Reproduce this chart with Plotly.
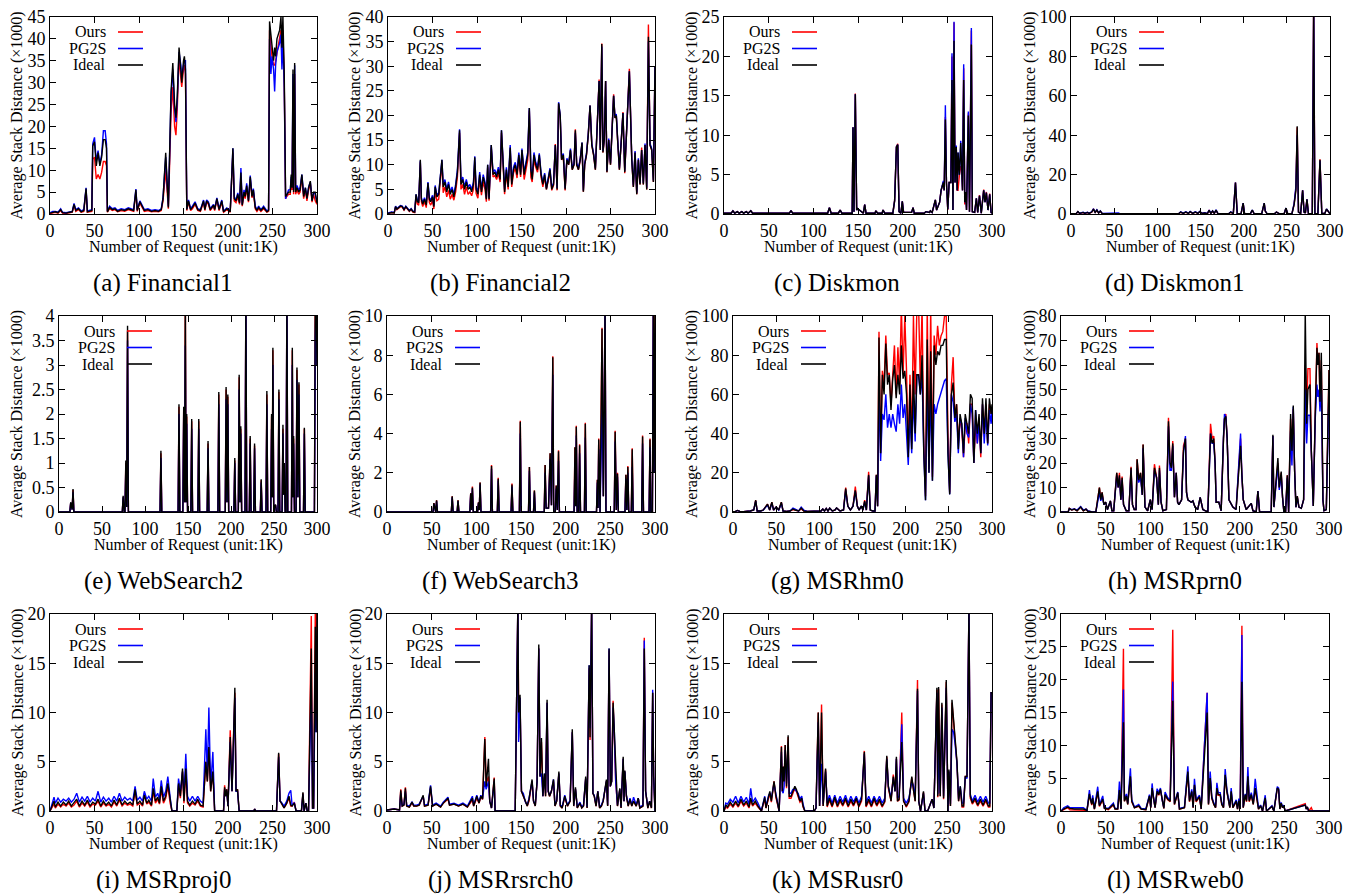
import plotly.graph_objects as go

W, H = 1358, 895
FONT = "Liberation Serif"
RED, BLUE, BLACK = "#ff0000", "#0000ff", "#000000"

# ---------------- (a) Financial1 ----------------
A_X = [0, 3, 6, 9, 12, 14, 18, 22, 25, 27,
       29, 32, 35, 38, 40.5, 42, 45, 47, 48, 50,
       52, 54, 56, 58, 60, 62, 63.5, 64.5, 67, 70,
       73, 76, 80, 84, 88, 92, 94, 96.5, 98, 101,
       103, 106, 110, 114, 118, 122, 125, 127, 130, 133,
       136, 138, 140, 141.5, 143, 145, 147, 148, 150, 151,
       152.2, 153.7, 155.6, 158, 160, 163, 166, 169, 172.5, 174,
       176, 178, 180, 183.7, 185, 187.5, 190, 193, 195, 198.7,
       202.5, 205.5, 207, 209, 211, 213, 214.5, 216, 218, 219.4,
       221, 223, 225, 226.9, 228.5, 230.6, 232.5, 234.4, 237, 240,
       243.7, 245.6, 246.7, 248.2, 249.4, 251.2, 252.4, 253.5, 255, 256.9,
       258, 259.5, 260.6, 261.7, 263.2, 264.7, 266, 268, 270, 271,
       272, 273, 273.7, 274.9, 276, 277.5, 279.4, 281, 283, 285,
       287, 288.7, 290.6, 292.5, 294.4, 296.2, 298, 300]
A_IDEAL = [0.2, 0.4, 0.5, 0.3, 1.0, 0.3, 0.2, 0.4, 0.5, 2.2,
           0.8, 1.2, 0.5, 0.8, 5.8, 0.5, 0.6, 0.8, 15.5, 16.5,
           11, 14, 11, 13, 17, 17, 15, 0.5, 1.5, 1.0,
           1.2, 0.6, 1.0, 0.8, 1.2, 1.0, 0.8, 5.5, 0.8, 2.8,
           2.0, 0.8, 1.0, 0.6, 0.8, 0.6, 1.0, 3.5, 14, 1.5,
           28, 34.5, 25, 22, 27, 38, 33, 30, 35, 36,
           33, 1.0, 3.0, 1.0, 1.5, 2.5, 1.0, 0.8, 3.0, 1.0,
           3.0, 2.5, 1.0, 2.0, 1.0, 3.5, 1.0, 3.0, 0.5, 1.2,
           0.5, 15, 3.5, 3.0, 4.5, 2.5, 9.5, 2.0, 5.0, 4.0,
           6.5, 3.0, 8.5, 4.0, 5.5, 1.5, 0.8, 1.5, 0.8, 1.5,
           0.5, 0.8, 44, 41, 37, 35, 38, 36, 40, 41,
           42, 45, 38, 45, 32, 4.0, 4.5, 5.0, 5.0, 9.0,
           6.0, 33, 5.0, 34.5, 5.0, 6.0, 5.0, 5.5, 9.0, 4.0,
           6.0, 3.5, 6.0, 7.5, 3.0, 5.0, 5.0, 2.5]
A_OURS = [0.1, 0.3, 0.4, 0.2, 0.8, 0.2, 0.1, 0.3, 0.4, 2.0,
          0.6, 1.0, 0.4, 0.6, 5.5, 0.4, 0.5, 0.6, 12.5, 13,
          8, 9, 8, 9.5, 12, 12, 11, 0.4, 1.2, 0.8,
          1.0, 0.5, 0.8, 0.6, 1.0, 0.8, 0.6, 5.0, 0.6, 2.5,
          1.8, 0.6, 0.8, 0.5, 0.6, 0.5, 0.8, 3.0, 10, 1.2,
          23, 29, 20, 18, 24, 36, 31, 29, 33, 34,
          32, 0.8, 2.7, 0.8, 1.2, 2.2, 0.8, 0.6, 2.7, 0.8,
          2.7, 2.2, 0.8, 1.8, 0.8, 3.2, 0.8, 2.7, 0.4, 1.0,
          0.4, 14, 3.0, 2.6, 4.0, 2.2, 8.5, 1.8, 4.5, 3.5,
          6.0, 2.7, 8.0, 3.7, 5.0, 1.2, 0.6, 1.2, 0.6, 1.2,
          0.4, 0.6, 42, 38, 36, 34, 34, 35, 37, 39,
          40, 42, 36, 42, 30, 3.5, 4.0, 4.5, 4.5, 8.0,
          5.5, 28, 4.5, 32, 4.5, 5.5, 4.5, 5.0, 8.5, 3.5,
          5.5, 3.0, 5.5, 7.0, 2.7, 4.5, 3.0, 2.2]
A_PG2S = [0.3, 0.6, 0.6, 0.4, 1.2, 0.4, 0.3, 0.5, 0.6, 2.4,
          1.0, 1.4, 0.7, 1.0, 6.0, 0.7, 0.8, 1.0, 16, 17.5,
          12, 14.5, 11.5, 13.5, 19, 19, 16, 0.7, 1.8, 1.2,
          1.4, 0.8, 1.2, 1.0, 1.4, 1.2, 1.0, 5.7, 1.0, 3.0,
          2.2, 1.0, 1.2, 0.8, 1.0, 0.8, 1.2, 3.8, 13, 1.8,
          27, 33, 24, 21, 26, 37, 34, 31, 34, 35,
          35, 1.2, 3.2, 1.2, 1.8, 2.8, 1.2, 1.0, 3.2, 1.2,
          3.2, 2.8, 1.2, 2.2, 1.2, 3.7, 1.2, 3.2, 0.7, 1.4,
          0.7, 15, 4.0, 3.2, 4.8, 2.8, 10.5, 2.2, 5.5, 4.3,
          7.0, 3.2, 8.8, 4.3, 5.8, 1.8, 1.0, 1.8, 1.0, 1.8,
          0.7, 1.0, 40, 32, 36, 33, 28, 34, 37, 38,
          39, 41, 33, 40, 29, 3.5, 4.3, 5.5, 5.5, 8.5,
          6.5, 32, 5.5, 34, 5.5, 6.5, 5.5, 6.0, 9.0, 4.5,
          6.0, 3.7, 6.2, 7.3, 3.2, 5.0, 4.5, 2.8]

# ---------------- (b) Financial2 ----------------
B_X = [0, 4, 7, 8.5, 10, 12, 14, 16, 18, 20,
       22, 24, 26, 28, 30, 31.5, 33, 34.5, 36.3, 37.5,
       39, 41, 43, 44.9, 46.5, 48, 50, 51.5, 53, 55,
       57, 58.5, 60.6, 62, 64, 66, 68, 70, 72, 74,
       76, 78, 80.4, 82, 84, 86, 88, 90, 92, 94,
       96, 97.5, 99, 101, 103, 105, 107, 109, 110.5, 112,
       113.5, 116, 118, 120, 122, 124, 126, 127.5, 129, 131,
       133, 135, 137.3, 139, 141, 143, 145, 147, 149, 150.5,
       153, 155, 157, 158.8, 160.5, 162, 164, 166, 168, 170,
       172, 174, 176, 178, 180, 182, 184, 186, 188, 190,
       191.7, 193.5, 195, 197, 199, 201, 203, 205, 207, 209,
       210.5, 212, 214, 216, 218, 219.5, 221, 223, 225, 227,
       229, 231, 233, 235, 237.2, 238.5, 240.2, 241.5, 243, 244.5,
       246, 248, 250, 252, 253.5, 255, 256.5, 258, 260, 262,
       264, 266, 268, 269.5, 271.2, 273.9, 275.7, 277.6, 279.5, 281.3,
       283.2, 285, 286.9, 288.8, 290.7, 292.6, 294.4, 296.3, 298.2, 300]
B_IDEAL = [0.1, 0.3, 0.2, 1.5, 1.0, 1.3, 1.6, 1.5, 0.9, 1.5,
           1.1, 0.6, 1.0, 0.5, 0.4, 4.0, 2.5, 2.3, 11, 3.0,
           2.0, 3.0, 1.8, 6.3, 3.0, 2.5, 3.5, 1.5, 5.5, 3.5,
           4.0, 7.0, 11, 5.5, 6.5, 4.5, 6.0, 4.0, 5.0, 3.5,
           5.5, 8.5, 17, 6.0, 7.0, 5.0, 6.5, 5.0, 5.5, 4.5,
           6.0, 11.5, 5.0, 4.0, 8.0, 4.5, 7.5, 6.0, 3.0, 10,
           3.0, 14, 8.0, 8.5, 7.5, 9.0, 7.0, 17, 10, 4.5,
           9.0, 5.5, 13.5, 6.0, 9.0, 10, 8.0, 12, 8.0, 13,
           8.0, 10, 12, 21.5, 9.0, 7.0, 12, 10, 9.0, 12,
           8.0, 6.0, 8.0, 5.0, 7.0, 9.0, 5.0, 6.0, 14, 5.0,
           22.5, 20, 11, 12, 5.0, 11, 10, 13, 9.0, 10,
           17, 10, 9.0, 11, 14.5, 4.5, 10, 12, 16, 22,
           14, 12, 9.0, 17, 27, 13, 34.5, 12.5, 15, 27,
           8.5, 15, 10, 18, 24, 19.5, 20, 15, 9.0, 14.5,
           20.5, 8.5, 16, 20, 29, 11, 5.5, 12.5, 4.0, 11,
           6.0, 13, 6.0, 14, 5.0, 36, 14, 13, 6.5, 30]
B_OURS = [0.1, 0.3, 0.2, 1.4, 0.9, 1.2, 1.5, 1.4, 0.8, 1.4,
          1.0, 0.5, 0.9, 0.4, 0.3, 3.5, 2.0, 1.8, 10.5, 2.5,
          1.5, 2.5, 1.3, 5.8, 2.3, 1.8, 2.8, 1.0, 4.5, 2.7,
          3.0, 6.0, 10.5, 4.3, 5.5, 3.5, 4.8, 3.0, 4.0, 2.8,
          4.5, 7.5, 16.5, 5.0, 6.0, 4.0, 5.5, 4.0, 4.5, 3.7,
          5.0, 10.5, 4.2, 3.2, 7.0, 3.8, 6.5, 5.0, 2.5, 9.5,
          2.7, 13.5, 7.5, 7.8, 7.0, 8.2, 6.5, 16.5, 9.5, 4.0,
          8.3, 5.0, 13, 5.5, 8.3, 9.3, 7.3, 11.5, 7.5, 12.5,
          7.0, 9.0, 11, 21, 7.5, 6.5, 11, 9.5, 8.5, 11.5,
          7.5, 5.5, 7.5, 5.0, 7.0, 8.5, 4.8, 5.8, 14.2, 4.8,
          22.3, 19.5, 11, 11.5, 4.8, 11, 10, 12.8, 9.0, 10,
          17.2, 10, 9.0, 11, 14.3, 4.5, 10, 12, 16, 22,
          14, 12, 9.0, 17, 27.3, 13, 34.6, 12.5, 15, 27,
          8.5, 15, 10, 18.3, 24.3, 19.5, 20, 15, 9.0, 14.5,
          20.7, 8.3, 16, 20, 29.5, 11, 5.5, 12.5, 4.0, 11,
          6.0, 13.5, 6.0, 14, 5.0, 38.5, 14, 13, 6.5, 30]
B_PG2S = [0.2, 0.4, 0.3, 1.6, 1.1, 1.4, 1.7, 1.6, 1.0, 1.6,
          1.2, 0.7, 1.1, 0.6, 0.5, 4.0, 2.8, 2.6, 10.8, 3.3,
          2.3, 3.3, 2.1, 6.5, 3.3, 2.8, 3.8, 1.8, 5.8, 3.8,
          4.3, 7.3, 11, 6.0, 7.0, 5.0, 6.5, 4.5, 5.5, 4.0,
          6.0, 9.0, 17.2, 6.5, 7.5, 5.5, 7.0, 5.5, 6.0, 5.0,
          6.5, 11.7, 5.5, 4.5, 8.5, 5.0, 8.0, 6.5, 3.3, 10,
          3.3, 14, 8.5, 9.0, 8.0, 9.5, 7.5, 17, 10.5, 5.0,
          9.5, 6.0, 14, 6.5, 9.5, 10.5, 8.5, 12.5, 8.5, 13.3,
          8.5, 10.5, 12.5, 21.5, 9.5, 7.5, 12.5, 10.5, 9.5, 12.3,
          8.3, 6.3, 8.3, 5.3, 7.3, 9.3, 5.3, 6.3, 14, 5.3,
          22.7, 20, 11.3, 12.3, 5.3, 11.3, 10.3, 13.3, 9.3, 10.3,
          16.5, 10.3, 9.3, 11.3, 14.5, 4.8, 10.3, 12.3, 16.3, 22,
          14.3, 12.3, 9.3, 18, 27, 13.3, 34, 12.8, 15.3, 27,
          8.8, 15.3, 10.3, 18, 24, 19.8, 20.3, 15.3, 9.3, 14.8,
          20.5, 8.8, 16.3, 20.3, 29, 11.3, 5.8, 12.8, 4.3, 11.3,
          6.3, 13, 6.3, 14.3, 5.3, 35, 14.3, 13.3, 6.8, 30]

# ---------------- (c) Diskmon ----------------
C_X = [0, 8, 10, 12, 15, 17, 20, 22, 25, 27,
       30, 32, 73, 75, 77, 116, 118, 120, 128, 130,
       132, 143.5, 144.4, 145.5, 147, 148.5, 149.5, 156, 157.5, 159,
       169, 170, 172, 177, 178, 180, 189, 191, 193, 194.5,
       196, 198, 199.6, 201, 210, 211.6, 213, 224, 226, 230,
       231, 233, 236.6, 238, 241.4, 243, 245.5, 246.5, 247.8, 249,
       250.5, 252, 254, 255.2, 256.3, 257.5, 258.6, 260, 261, 262,
       263.5, 265, 266, 267, 268.3, 269.5, 270.5, 271.5, 273.5, 274.8,
       276.9, 278, 280.6, 282.5, 284, 286, 288, 290.7, 292.2, 293.7,
       295.5, 297.4, 299, 300]
C_IDEAL = [0.1, 0.1, 0.4, 0.1, 0.3, 0.1, 0.3, 0.1, 0.3, 0.1,
           0.4, 0.1, 0.1, 0.4, 0.1, 0.1, 0.8, 0.1, 0.1, 0.5,
           0.1, 0.1, 11, 0.3, 15.2, 0.5, 0.7, 0.1, 1.2, 0.1,
           0.1, 0.4, 0.1, 0.1, 0.5, 0.1, 0.1, 1.7, 8.5, 8.8,
           0.3, 0.1, 1.6, 0.2, 0.2, 0.8, 0.1, 0.1, 0.3, 0.2,
           0.4, 0.2, 1.8, 0.5, 1.5, 3.0, 4.0, 3.0, 12, 4.0,
           0.6, 4.0, 4.0, 17, 0.5, 22, 4.0, 8.5, 3.0, 7.8,
           5.0, 9.0, 6.0, 3.0, 17, 1.5, 2.8, 0.5, 12.5, 0.3,
           21.5, 0.3, 0.2, 2.0, 0.2, 2.3, 0.1, 3.0, 1.5, 2.7,
           0.5, 2.5, 0.2, 0.1]
C_OURS = [0.1, 0.1, 0.4, 0.1, 0.3, 0.1, 0.3, 0.1, 0.3, 0.1,
          0.4, 0.1, 0.1, 0.4, 0.1, 0.1, 0.8, 0.1, 0.1, 0.5,
          0.1, 0.1, 11, 0.3, 15.3, 0.5, 0.7, 0.1, 1.2, 0.1,
          0.1, 0.4, 0.1, 0.1, 0.5, 0.1, 0.1, 1.7, 8.5, 8.9,
          0.3, 0.1, 1.6, 0.2, 0.2, 0.8, 0.1, 0.1, 0.3, 0.2,
          0.4, 0.2, 1.8, 0.5, 1.5, 3.0, 4.0, 3.0, 12.3, 4.0,
          0.5, 4.0, 4.0, 20, 0.5, 24.3, 4.0, 8.5, 3.0, 3.0,
          5.0, 6.0, 6.0, 3.0, 18.5, 1.2, 2.8, 0.5, 12.8, 0.3,
          23.3, 0.3, 0.2, 2.0, 0.2, 2.4, 0.1, 3.1, 1.5, 2.8,
          0.5, 2.6, 0.2, 0.1]
C_PG2S = [0.1, 0.1, 0.4, 0.1, 0.3, 0.1, 0.3, 0.1, 0.3, 0.1,
          0.4, 0.1, 0.1, 0.4, 0.1, 0.1, 0.8, 0.1, 0.1, 0.5,
          0.1, 0.1, 11, 0.3, 15.2, 0.5, 0.7, 0.1, 1.2, 0.1,
          0.1, 0.4, 0.1, 0.1, 0.5, 0.1, 0.1, 1.7, 8.5, 8.8,
          0.3, 0.1, 1.6, 0.2, 0.2, 0.8, 0.1, 0.1, 0.3, 0.2,
          0.4, 0.2, 1.8, 0.5, 1.5, 3.0, 4.2, 3.0, 13.8, 4.0,
          0.6, 4.0, 4.0, 20.4, 0.5, 24.4, 4.0, 8.7, 3.0, 7.8,
          5.0, 9.3, 6.0, 3.0, 19, 1.5, 2.8, 0.5, 13, 0.3,
          23.6, 0.3, 0.2, 2.0, 0.2, 2.3, 0.1, 3.0, 1.5, 2.7,
          0.5, 2.5, 0.2, 0.1]

# ---------------- (d) Diskmon1 ----------------
D_X = [0, 6, 8, 10, 14, 16, 19, 21, 24, 26,
       28, 30, 32, 34, 36, 48, 50, 53, 55, 57,
       120, 125, 127, 130, 133, 136, 138, 141, 144, 147,
       149, 152, 155, 158, 160, 162, 164, 166, 168, 170,
       172, 183, 185, 188, 190.5, 192.5, 197, 199.4, 201, 208,
       210, 212, 221, 223.8, 225, 227, 236, 238, 241, 247,
       249, 251, 256, 258.5, 260.5, 262, 263.5, 266, 268.3, 270,
       271.5, 273.3, 275, 279.5, 281.1, 282.5, 286, 288.4, 290.5, 294,
       296, 298, 300]
D_IDEAL = [0.1, 0.2, 1.2, 0.3, 0.8, 0.3, 0.8, 0.3, 1.0, 2.5,
           0.8, 2.0, 0.5, 1.5, 0.3, 0.2, 0.5, 0.2, 0.4, 0.1,
           0.1, 0.2, 1.0, 0.3, 1.0, 0.3, 1.2, 0.3, 1.0, 0.3,
           1.2, 0.3, 0.5, 0.2, 1.8, 0.3, 1.5, 0.3, 2.0, 0.3,
           0.1, 0.2, 1.0, 0.2, 16, 0.3, 0.2, 5.5, 0.2, 0.3,
           2.0, 0.2, 0.3, 5.5, 1.5, 0.2, 0.2, 1.0, 0.2, 0.3,
           3.0, 0.2, 0.3, 5.0, 12, 44.5, 1.0, 0.3, 12, 1.0,
           0.5, 7.5, 0.2, 0.2, 105, 0.2, 0.3, 27.5, 0.3, 0.3,
           2.5, 1.0, 0.1]
D_OURS = [0.1, 0.2, 1.1, 0.3, 0.7, 0.3, 0.7, 0.3, 0.9, 2.3,
          0.8, 1.8, 0.5, 1.4, 0.3, 0.2, 0.5, 0.2, 0.4, 0.1,
          0.1, 0.2, 0.9, 0.3, 0.9, 0.3, 1.1, 0.3, 0.9, 0.3,
          1.1, 0.3, 0.5, 0.2, 1.7, 0.3, 1.4, 0.3, 1.9, 0.3,
          0.1, 0.2, 0.9, 0.2, 16, 0.3, 0.2, 5.4, 0.2, 0.3,
          1.9, 0.2, 0.3, 5.3, 1.4, 0.2, 0.2, 1.0, 0.2, 0.3,
          2.9, 0.2, 0.3, 5.0, 13, 44, 1.0, 0.3, 12, 1.0,
          0.5, 7.5, 0.2, 0.2, 110, 0.2, 0.3, 27.8, 0.3, 0.3,
          2.4, 1.0, 0.1]
D_PG2S = [0.1, 0.2, 1.2, 0.4, 0.9, 0.4, 0.9, 0.4, 1.1, 2.6,
          0.9, 2.1, 0.6, 1.6, 0.3, 0.3, 0.6, 0.3, 0.5, 0.1,
          0.1, 0.3, 1.1, 0.4, 1.1, 0.4, 1.3, 0.4, 1.1, 0.4,
          1.3, 0.4, 0.6, 0.3, 2.0, 0.4, 1.6, 0.4, 2.1, 0.3,
          0.1, 0.3, 1.1, 0.3, 16, 0.3, 0.2, 5.5, 0.2, 0.3,
          2.0, 0.2, 0.3, 5.5, 1.6, 0.2, 0.2, 1.0, 0.2, 0.3,
          3.0, 0.2, 0.3, 5.5, 14, 40, 1.0, 0.3, 12, 1.0,
          0.5, 7.5, 0.2, 0.2, 105, 0.2, 0.3, 27, 0.3, 0.3,
          2.6, 1.0, 0.1]

# ---------------- (e) WebSearch2 ----------------
E_X = [0, 12.6, 13.6, 14.6, 15.3, 16.3, 17.3, 73.6, 74.6, 75.8,
       76.7, 77.7, 78.7, 79.7, 80.7, 117.5, 118.5, 119.5, 138.5, 139.5,
       140.5, 144, 145, 146, 146.9, 147.7, 148.5, 149.5, 153.3, 154.3,
       155.3, 161.5, 162.5, 163.5, 172.3, 173.3, 174.3, 184.8, 185.8, 186.8,
       193.3, 194.3, 195.3, 196.3, 197.3, 203.4, 204.4, 205.4, 208.5, 209.5,
       210.5, 211.4, 212.4, 216.3, 217.3, 218.3, 221.3, 222.3, 223.3, 226.4,
       227.4, 228.4, 234.1, 235.1, 236.1, 240.7, 241.7, 242.7, 246.2, 247.2,
       248, 248.7, 249.7, 250.7, 251.8, 252.8, 254.7, 255.7, 256.7, 259.4,
       260.4, 261.2, 262, 263, 264, 265, 266, 270.3, 271.3, 272,
       272.8, 273.8, 275.7, 276.7, 277.8, 279, 280, 284.3, 285.3, 286.3,
       297, 298, 299, 300]
E_IDEAL = [0, 0, 0.2, 0.05, 0.05, 0.47, 0, 0, 0.33, 0,
           0, 1.05, 0.1, 3.8, 0, 0, 1.25, 0, 0, 2.2,
           0, 0, 2.15, 0.2, 4.5, 0.2, 2.0, 0, 0, 1.9,
           0, 0, 1.9, 0, 0, 1.45, 0, 0, 2.45, 0,
           0, 2.55, 0.2, 2.4, 0, 0, 1.1, 0, 0, 2.8,
           0.2, 1.75, 0, 0, 4.5, 0, 0, 1.55, 0, 0,
           1.4, 0, 0, 0.67, 0, 0, 2.47, 0, 0, 2.0,
           0.3, 3.35, 0, 0.13, 0.15, 0, 0, 2.5, 0, 0,
           1.78, 0.35, 1.0, 0, 0, 4.5, 0, 0, 3.35, 0.3,
           1.55, 0, 0, 2.95, 0.3, 2.65, 0, 0, 1.72, 0,
           0, 4.5, 4.5, 3.0]
E_OURS = [0, 0, 0.18, 0.05, 0.05, 0.45, 0, 0, 0.3, 0,
          0, 1.0, 0.1, 3.7, 0, 0, 1.2, 0, 0, 2.15,
          0, 0, 2.1, 0.2, 4.5, 0.2, 1.95, 0, 0, 1.85,
          0, 0, 1.85, 0, 0, 1.4, 0, 0, 2.4, 0,
          0, 2.5, 0.2, 2.35, 0, 0, 1.05, 0, 0, 2.75,
          0.2, 1.7, 0, 0, 4.5, 0, 0, 1.5, 0, 0,
          1.35, 0, 0, 0.65, 0, 0, 2.4, 0, 0, 1.95,
          0.3, 3.3, 0, 0.12, 0.14, 0, 0, 2.45, 0, 0,
          1.7, 0.35, 0.95, 0, 0, 4.5, 0, 0, 3.3, 0.3,
          1.5, 0, 0, 2.9, 0.3, 2.6, 0, 0, 1.7, 0,
          0, 4.5, 4.5, 3.0]
E_PG2S = [0, 0, 0.18, 0.05, 0.05, 0.4, 0, 0, 0.3, 0,
          0, 0.9, 0.1, 3.5, 0, 0, 1.1, 0, 0, 2.0,
          0, 0, 2.0, 0.2, 3.4, 0.2, 1.8, 0, 0, 1.7,
          0, 0, 1.7, 0, 0, 1.3, 0, 0, 2.2, 0,
          0, 2.3, 0.2, 2.2, 0, 0, 1.0, 0, 0, 2.5,
          0.2, 1.6, 0, 0, 4.5, 0, 0, 1.4, 0, 0,
          1.3, 0, 0, 0.6, 0, 0, 2.2, 0, 0, 1.7,
          0.3, 3.0, 0, 0.12, 0.14, 0, 0, 2.3, 0, 0,
          1.6, 0.35, 0.9, 0, 0, 4.5, 0, 0, 3.0, 0.3,
          1.4, 0, 0, 2.7, 0.3, 2.4, 0, 0, 1.6, 0,
          0, 3.5, 4.5, 3.0]

# ---------------- (f) WebSearch3 ----------------
F_X = [0, 51.5, 52.5, 53.8, 54.5, 55.5, 56.5, 72, 73, 74,
       78.5, 79.5, 80.5, 92.7, 93.7, 94.6, 95.6, 96.6, 101.4, 102.4,
       103.3, 104.2, 105.2, 116, 117, 118, 123.5, 124.5, 125.5, 138.9,
       139.9, 140.9, 148.2, 149.2, 150.2, 158.4, 159.4, 160.4, 164, 165,
       166, 176, 177, 178.1, 179.2, 180.8, 182.6, 184.1, 185.6, 186.6,
       188.4, 189.4, 190.7, 192, 193, 209.4, 210.4, 211.2, 211.9, 212.9,
       214.6, 215.6, 216.6, 221, 222, 223, 234.5, 235.5, 236.2, 237,
       238.5, 240.7, 242.2, 244.1, 245.1, 254.4, 255.4, 256.7, 258, 259,
       266.4, 267.4, 268.5, 269.6, 270.6, 273.5, 274.5, 275.5, 285.1, 286.1,
       287.1, 293.4, 294.4, 295.4, 297.1, 298.1, 299, 300]
F_IDEAL = [0, 0, 0.45, 0, 0, 0.6, 0, 0, 0.8, 0,
           0, 0.6, 0, 0, 0.95, 0.1, 1.25, 0, 0, 0.5,
           0.1, 1.5, 0, 0, 2.35, 0, 0, 1.7, 0, 0,
           1.4, 0, 0, 4.6, 0, 0, 2.3, 0, 0, 1.1,
           0, 0, 2.4, 0.2, 0.2, 0.2, 3.0, 0.35, 7.9, 0,
           0, 1.35, 0.1, 3.1, 0, 0, 3.3, 0.3, 4.35, 0,
           0, 3.4, 0, 0, 4.5, 0, 0, 1.65, 0.2, 3.7,
           0, 9.35, 0.8, 10.5, 0, 0, 4.1, 0.1, 1.95, 0,
           0, 1.9, 0.1, 2.3, 0, 0, 3.2, 0, 0, 3.85,
           0, 0, 3.7, 0, 0, 10.5, 2.0, 10.5]
F_OURS = [0, 0, 0.45, 0, 0, 0.6, 0, 0, 0.8, 0,
          0, 0.6, 0, 0, 0.95, 0.1, 1.3, 0, 0, 0.5,
          0.1, 1.5, 0, 0, 2.4, 0, 0, 1.75, 0, 0,
          1.45, 0, 0, 4.65, 0, 0, 2.3, 0, 0, 1.1,
          0, 0, 2.4, 0.2, 0.2, 0.2, 3.0, 0.35, 7.95, 0,
          0, 1.35, 0.1, 3.15, 0, 0, 3.3, 0.3, 4.4, 0,
          0, 3.45, 0, 0, 4.55, 0, 0, 1.65, 0.2, 3.75,
          0, 9.4, 0.8, 10.5, 0, 0, 4.15, 0.1, 2.0, 0,
          0, 1.9, 0.1, 2.35, 0, 0, 3.25, 0, 0, 3.9,
          0, 0, 3.75, 0, 0, 10.5, 2.0, 10.5]
F_PG2S = [0, 0, 0.4, 0, 0, 0.55, 0, 0, 0.75, 0,
          0, 0.55, 0, 0, 0.9, 0.1, 1.2, 0, 0, 0.45,
          0.1, 1.4, 0, 0, 2.2, 0, 0, 1.6, 0, 0,
          1.3, 0, 0, 4.0, 0, 0, 2.1, 0, 0, 1.0,
          0, 0, 2.0, 0.2, 0.2, 0.2, 2.7, 0.35, 7.0, 0,
          0, 1.2, 0.1, 2.6, 0, 0, 2.5, 0.3, 3.9, 0,
          0, 3.0, 0, 0, 3.8, 0, 0, 1.5, 0.2, 3.2,
          0, 5.5, 0.8, 10.5, 0, 0, 3.6, 0.1, 1.8, 0,
          0, 1.7, 0.1, 2.0, 0, 0, 2.3, 0, 0, 3.5,
          0, 0, 3.3, 0, 0, 10.5, 2.0, 8.0]

# ---------------- (g) MSRhm0 ----------------
G_X = [0, 3, 5, 8, 12, 16, 20, 24, 26.3, 28,
       32, 35, 37.8, 40, 42.5, 45, 47, 50, 53, 56,
       58, 62, 66, 69.5, 72, 76, 79, 82, 86, 92,
       98, 102, 104, 106, 108, 110, 112, 115, 118, 120,
       124, 128, 130.5, 133, 136, 139, 141.7, 144, 146, 148.6,
       150.5, 152.5, 154.5, 157.1, 159, 162, 164.5, 166, 167.5, 169.1,
       171, 173, 175, 177, 179, 181, 183, 185, 187, 189,
       191, 193, 195, 197, 199, 201, 203, 205, 207, 209,
       211, 213, 215, 217, 219, 221, 223, 225, 227, 229,
       231, 233, 235, 237, 239, 241, 243, 245, 247, 249,
       251, 253, 255, 257, 259, 261, 263, 265, 267, 269,
       271, 273, 275, 277, 279, 281, 283, 285, 287, 289,
       291, 293, 295, 297, 299, 300]
G_IDEAL = [0.2, 0.3, 0.8, 0.3, 0.2, 0.3, 0.5, 1, 6, 0.5,
           0.5, 1, 2.5, 4, 1, 5, 1, 2.5, 1, 5,
           0.5, 0.3, 0.5, 1.5, 1, 0.5, 2, 0.5, 0.3, 0.3,
           0.3, 0.5, 1.5, 0.5, 1.8, 0.5, 2, 0.5, 1, 2,
           0.5, 1, 12, 3, 1, 3, 11, 3, 1, 3,
           1, 5.5, 1, 19, 1, 0.5, 0.5, 19, 3, 89,
           30, 70, 60, 86, 65, 70, 52, 68, 75, 58,
           70, 60, 85, 68, 72, 60, 28, 65, 32, 72,
           40, 70, 70, 60, 80, 30, 6, 88, 20, 82,
           16, 85, 75, 82, 80, 85, 85, 88, 88, 30,
           9, 60, 66, 48, 55, 32, 50, 45, 30, 50,
           45, 40, 60, 58, 25, 52, 40, 50, 30, 58,
           40, 58, 35, 58, 50, 55]
G_OURS = [0.2, 0.3, 0.8, 0.3, 0.2, 0.3, 0.5, 1, 6, 0.5,
          0.5, 1, 2.5, 4, 1, 5, 1, 2.5, 1, 5,
          0.5, 0.3, 0.5, 1.2, 1, 0.5, 1.5, 0.5, 0.3, 0.3,
          0.3, 0.5, 1.5, 0.5, 1.8, 0.5, 2, 0.5, 1, 2,
          0.5, 1, 12.5, 3, 1, 3, 13, 3, 1, 3,
          1, 6, 1, 20.5, 1, 0.5, 0.5, 19, 3, 92,
          30, 72, 65, 90, 70, 71, 55, 72, 85, 60,
          84, 65, 105, 70, 100, 72, 30, 70, 35, 100,
          60, 105, 105, 65, 105, 35, 8, 105, 22, 105,
          18, 90, 80, 95, 85, 90, 92, 100, 100, 40,
          10, 65, 79, 48, 55, 35, 48, 42, 28, 45,
          45, 35, 55, 55, 25, 45, 35, 48, 28, 55,
          40, 55, 35, 55, 50, 52]
G_PG2S = [0.2, 0.3, 0.8, 0.3, 0.2, 0.3, 0.5, 1, 5.5, 0.5,
          0.5, 1, 2.5, 3.5, 1, 4.5, 1, 2.5, 1, 4.5,
          0.5, 0.3, 0.5, 2, 1.5, 0.5, 2.5, 1, 0.3, 0.3,
          0.3, 0.5, 1.5, 0.5, 1.8, 0.5, 2, 0.5, 1, 2,
          0.5, 1, 11, 3, 1, 3, 10.5, 3, 1, 3,
          1, 5, 1, 18.5, 1, 0.5, 0.5, 18.5, 3, 62,
          26, 50, 47, 60, 43, 50, 43, 50, 45, 41,
          55, 45, 65, 48, 55, 42, 24, 50, 30, 58,
          36, 70, 70, 60, 70, 30, 6, 65, 20, 62,
          16, 55, 50, 55, 58, 62, 65, 67, 68, 30,
          9, 60, 56, 46, 50, 30, 48, 45, 28, 48,
          40, 38, 55, 50, 25, 52, 35, 45, 30, 55,
          35, 50, 34, 52, 45, 52]

# ---------------- (h) MSRprn0 ----------------
H_X = [0, 8, 9.3, 12, 15, 18, 22, 25, 28, 30,
       35, 39, 43, 44.5, 46, 48, 50, 52, 55.3, 57,
       59, 62.4, 64, 65.4, 67, 68.4, 70, 73, 76, 78.4,
       80, 82, 84, 85.2, 87, 89, 91, 91.9, 94, 97,
       100, 102, 104.6, 107, 109, 110.2, 112, 114, 118, 120.3,
       122, 123.5, 125.1, 127, 129, 130.5, 132, 135, 137.1, 139.3,
       140.5, 142, 145.7, 147.6, 150, 153, 155.8, 158.8, 164.4, 167.4,
       169.2, 171, 172.5, 173.7, 176.7, 179.3, 181.9, 183, 184.5, 186,
       188, 190.5, 192.4, 196, 198, 200, 201, 202.5, 204, 207.3,
       213, 214.8, 218.5, 220.4, 222.3, 235.3, 237.2, 238.3, 242.8, 244.3,
       246.5, 248, 249.5, 251.4, 253.3, 254.8, 257, 258.5, 260, 261.5,
       263, 264.5, 266.3, 269, 271.6, 273.4, 275, 276.4, 278.7, 280.2,
       282.4, 284.6, 286.5, 287.6, 288.8, 289.9, 291.4, 293.2, 294.4, 297,
       298.8, 300]
H_IDEAL = [0, 0, 1.5, 0.8, 1.2, 0.5, 2, 0.5, 1.2, 0.3,
           0, 0, 10, 5, 8, 3, 4, 1, 4.5, 0.5,
           0.5, 16, 10, 15, 5, 14, 3, 0.5, 0.5, 18,
           3, 1, 1, 21.5, 13, 16, 7, 27.5, 2, 0.5,
           5, 1, 18, 14, 3, 18, 4, 0.5, 1, 37,
           20, 18, 28, 6, 16, 4, 3, 5, 25, 30,
           8, 5, 4, 4.5, 2, 1, 6, 1, 0, 32,
           28, 30, 20, 4, 4, 0.5, 30, 38, 39, 30,
           5, 3, 2, 1, 12, 20, 27, 15, 5, 1,
           3.5, 0.5, 0, 8.5, 0, 0, 31.5, 2, 22, 10,
           16.5, 6, 0, 0, 15, 0, 40, 25, 43.5, 17,
           2, 6.5, 2, 1.5, 5, 82, 36, 50, 52, 25,
           2.5, 40, 67, 60, 65, 45, 65, 5, 0.5, 1,
           40, 58]
H_OURS = [0, 0, 1.5, 0.8, 1.2, 0.5, 2, 0.5, 1.2, 0.3,
          0, 0, 10, 5.5, 8, 3, 4, 1, 4.5, 0.5,
          0.5, 16, 10, 16, 5, 14.5, 3, 0.5, 0.5, 18.5,
          3, 1, 1, 21.5, 13, 16, 7, 27.5, 2, 0.5,
          5, 1, 19.5, 14, 3, 19, 4, 0.5, 1, 38.5,
          20, 18, 29, 6, 16, 4, 3, 5, 27, 30,
          8, 5, 4, 4.5, 2, 1, 6, 1, 0, 36,
          30, 31, 20, 4, 4, 0.5, 30, 38, 40, 30,
          5, 3, 2, 1, 12, 22, 30, 15, 5, 1,
          3.5, 0.5, 0, 8.5, 0, 0, 31, 2, 20, 10,
          16, 6, 0, 0, 15, 0, 38, 25, 42, 17,
          2, 6.5, 2, 1.5, 5, 60, 40, 58.5, 58.5, 25,
          2.5, 40, 69, 60, 65, 45, 62, 5, 0.5, 1,
          40, 58]
H_PG2S = [0, 0, 1.3, 1, 1.2, 0.8, 2.2, 0.8, 1.2, 0.5,
          0, 0, 8, 4.5, 7, 3, 4, 1, 4.5, 0.5,
          0.5, 15, 10, 14, 5, 13, 3, 0.5, 0.5, 17,
          3, 1, 1, 18, 12, 14, 7, 26, 2, 0.5,
          5, 1, 17, 14, 3, 17, 4, 0.5, 1, 35,
          17, 17, 27, 6, 16, 4, 3, 5, 24, 31,
          8, 5, 4, 4.5, 2, 1, 6, 1, 0, 32,
          28, 28, 20, 4, 4, 0.5, 31, 40, 39, 30,
          5, 3, 2, 1, 15, 26, 32, 15, 5, 1,
          3.5, 0.5, 0, 8.5, 0, 0, 31, 2, 19, 9,
          15, 6, 0, 0, 14, 0, 33, 19, 43, 17,
          2, 6, 2, 1.5, 5, 50, 28, 39.5, 39.5, 25,
          2.5, 38, 52, 47, 50, 41, 52, 5, 0.5, 1,
          40, 50]

# ---------------- (i) MSRproj0 ----------------
I_X = [0, 2, 4.5, 6, 9, 12, 15, 18, 21, 24,
       27, 30, 33, 36, 39, 42, 45, 48, 51, 54,
       57, 60, 63, 66, 69, 72, 75, 78, 81, 84,
       87, 90, 93, 95.6, 98, 101, 104, 106, 108.7, 111,
       114, 116, 118.5, 121, 123, 125, 127.5, 130, 132.4, 135,
       137, 142.5, 144.4, 146.5, 148.9, 150.5, 152.6, 154.5, 157, 160,
       163, 166, 169, 172, 175.1, 176.8, 178.5, 180.5, 183, 185,
       195, 196.2, 197.3, 198.5, 200, 202.5, 204.5, 207.7, 209, 210.7,
       212.5, 229, 230, 231, 254.5, 256.9, 258.5, 260, 263, 266,
       268.5, 270.5, 272, 274.5, 276.5, 282.5, 284.2, 285.5, 287.5, 289,
       290.5, 293.6, 295, 296.2, 298.1, 299, 300]
I_IDEAL = [0, 0.4, 1.0, 0.4, 0.9, 0.5, 0.9, 0.6, 1.0, 0.5,
           0.8, 1.2, 0.5, 1.0, 0.6, 1.1, 0.5, 0.9, 0.7, 1.2,
           0.5, 1.0, 0.6, 0.9, 0.5, 1.1, 0.6, 1.3, 0.6, 1.0,
           0.7, 0.9, 0.6, 2.2, 0.7, 1.0, 0.6, 1.6, 0.8, 1.1,
           0.6, 2.3, 1.0, 1.4, 0.8, 2.5, 1.0, 1.5, 2.8, 1.0,
           0, 0, 2.8, 1.5, 4.3, 1.0, 4.3, 1.0, 0.6, 1.0,
           0.7, 1.2, 0.6, 0.5, 5.0, 3.0, 6.5, 2.0, 4.0, 0,
           0, 2.4, 1.5, 2.2, 0.5, 7.5, 2.0, 12.5, 2.0, 2.2,
           0, 0, 0.2, 0, 0, 5.9, 1.0, 0.8, 0.3, 0.8,
           1.5, 0.6, 0.5, 0.8, 0, 0, 1.9, 0, 0.8, 0,
           0, 16.5, 0.3, 0.3, 18.7, 8, 20.5]
I_OURS = [0, 0.3, 0.7, 0.3, 0.7, 0.4, 0.7, 0.5, 0.8, 0.4,
          0.6, 1.0, 0.4, 0.8, 0.5, 0.9, 0.4, 0.7, 0.6, 1.0,
          0.4, 0.8, 0.5, 0.7, 0.4, 0.9, 0.5, 1.1, 0.5, 0.8,
          0.6, 0.7, 0.5, 2.0, 0.6, 0.8, 0.5, 1.8, 0.7, 0.9,
          0.5, 2.0, 0.8, 1.2, 0.7, 2.2, 0.8, 1.3, 2.5, 0.8,
          0, 0, 2.6, 1.3, 4.0, 0.8, 4.0, 0.8, 0.5, 0.8,
          0.6, 1.0, 0.5, 0.4, 5.0, 3.0, 6.5, 2.0, 4.0, 0,
          0, 2.6, 1.5, 2.2, 0.5, 8.2, 2.0, 12.0, 2.0, 2.2,
          0, 0, 0.2, 0, 0, 5.8, 1.0, 0.8, 0.3, 0.8,
          1.3, 0.5, 0.5, 0.9, 0, 0, 1.8, 0, 0.8, 0,
          0, 19.8, 0.3, 0.3, 20.5, 10, 20.5]
I_PG2S = [0, 0.6, 1.4, 0.8, 1.3, 0.9, 1.2, 1.0, 1.3, 0.9,
          1.2, 1.8, 0.9, 1.4, 1.0, 1.5, 0.9, 1.3, 1.0, 2.0,
          0.9, 1.4, 1.0, 1.3, 0.9, 1.5, 1.0, 1.8, 1.0, 1.4,
          1.1, 1.3, 1.0, 2.5, 1.1, 1.4, 1.0, 2.0, 1.2, 1.5,
          1.0, 3.3, 1.4, 1.8, 1.2, 3.1, 1.4, 2.0, 3.5, 1.4,
          0, 0, 3.3, 2.0, 4.0, 1.5, 5.8, 1.5, 1.0, 1.5,
          1.0, 1.5, 1.0, 0.8, 8.3, 3.5, 10.5, 2.5, 6.0, 0,
          0, 2.2, 1.5, 2.0, 0.5, 7.0, 2.0, 11.5, 2.0, 2.0,
          0, 0, 0.2, 0, 0, 5.5, 1.0, 0.9, 0.5, 1.0,
          1.8, 2.1, 0.6, 0.8, 0, 0, 1.7, 0, 0.8, 0,
          0, 12.8, 0.3, 0.3, 14, 8, 14]

# ---------------- (j) MSRrsrch0 ----------------
J_X = [0, 8, 14, 15.4, 17, 19, 20.6, 22, 25, 28,
       30, 33, 36, 40.5, 42, 46, 48.75, 51, 55, 60,
       63, 68.25, 70, 75, 80, 85, 90, 95.6, 97, 100.5,
       103, 105, 107, 109.5, 111, 113.6, 115, 117, 120, 121,
       143.5, 146.5, 147.3, 148.9, 150.5, 152.6, 155, 157, 159, 162.4,
       164, 166, 168, 169.9, 171.3, 172.9, 174.5, 176.2, 177.5, 179.2,
       180.5, 182, 184, 186.4, 188, 190, 192.4, 194, 196, 199,
       202, 205, 207.4, 209, 211, 213, 216, 218, 220, 222.4,
       224, 226.3, 227.3, 229.1, 230.5, 232, 234, 236, 238, 240,
       242, 245.6, 247, 248.6, 250, 251.5, 253.1, 254.5, 256, 258,
       260.6, 262, 264.4, 265.3, 266.25, 268, 270, 272, 274, 276,
       279, 281.25, 283, 286.5, 288, 289.5, 292, 294, 296, 297.4,
       298.5, 300]
J_IDEAL = [0.1, 0.2, 0.1, 2.1, 0.5, 0.6, 2.3, 0.5, 0.4, 0.9,
           0.5, 0.5, 0.6, 1.6, 0.5, 0.6, 2.5, 0.5, 0.7, 0.4,
           0.8, 1.3, 0.6, 0.7, 0.5, 0.7, 0.4, 1.3, 0.5, 1.5,
           0.8, 1.5, 1.2, 7.3, 2.5, 5.3, 1.0, 0.3, 3.3, 0,
           0, 21, 10, 11.8, 2, 1.5, 0.8, 0.5, 1.2, 3.2,
           1.0, 0.5, 3.0, 16.9, 3.5, 7.4, 1.5, 3.8, 1.5, 11.3,
           2.0, 1.5, 2.0, 3.2, 0.5, 1.0, 4.0, 0.5, 0.3, 1.5,
           0.5, 1.0, 8.3, 0.5, 2.4, 0.3, 0.8, 0.3, 0.5, 3.5,
           0.3, 14.8, 7.5, 21, 1.8, 1.5, 0.5, 2.0, 0.3, 0.5,
           1.0, 3.2, 0.5, 16.5, 2.5, 3.0, 11, 8, 3, 0.5,
           2.3, 0.3, 5.5, 1.0, 4.1, 1.5, 0.5, 1.2, 0.5, 1.0,
           0.5, 1.3, 0.3, 0.5, 16.5, 2.0, 0.3, 1.0, 0.3, 12,
           3.5, 0]
J_OURS = [0.1, 0.2, 0.1, 2.2, 0.5, 0.6, 2.4, 0.5, 0.4, 0.8,
          0.5, 0.5, 0.6, 1.5, 0.5, 0.6, 2.3, 0.5, 0.7, 0.4,
          0.8, 1.2, 0.6, 0.7, 0.5, 0.7, 0.4, 1.1, 0.5, 1.3,
          0.8, 1.4, 1.2, 7.5, 2.8, 3.5, 1.0, 0.3, 3.4, 0,
          0, 21, 11, 11.5, 2, 1.5, 0.8, 0.5, 1.0, 3.0,
          1.0, 0.5, 3.0, 16.5, 3.5, 7.0, 1.5, 3.5, 1.5, 11,
          2.0, 1.5, 2.0, 3.0, 0.5, 1.0, 3.8, 0.5, 0.3, 1.4,
          0.5, 1.0, 8.0, 0.5, 2.2, 0.3, 0.8, 0.3, 0.5, 3.3,
          0.3, 14.5, 7.2, 21, 1.8, 1.5, 0.5, 2.0, 0.3, 0.5,
          1.0, 3.0, 0.5, 16.3, 2.5, 3.0, 11.2, 8, 3, 0.5,
          2.2, 0.3, 5.3, 1.0, 4.0, 1.5, 0.5, 1.2, 0.5, 1.0,
          0.5, 1.3, 0.3, 0.5, 17.6, 2.0, 0.3, 1.0, 0.3, 12,
          3.5, 0]
J_PG2S = [0.1, 0.2, 0.1, 1.8, 0.5, 0.7, 2.0, 0.6, 0.5, 0.9,
          0.6, 0.6, 0.7, 1.5, 0.6, 0.7, 2.6, 0.6, 0.8, 0.5,
          0.9, 1.4, 0.7, 0.8, 0.6, 0.8, 0.5, 1.5, 0.6, 1.6,
          0.9, 1.6, 1.3, 3.0, 2.2, 3.0, 1.0, 0.3, 3.0, 0,
          0, 21, 7, 11.5, 2, 1.8, 0.9, 0.6, 1.3, 3.0,
          1.0, 0.6, 3.0, 16.5, 3.5, 3.8, 1.5, 3.8, 1.8, 11,
          2.0, 1.6, 2.0, 3.2, 0.6, 1.1, 3.8, 0.6, 0.4, 1.6,
          0.6, 1.1, 8.0, 0.6, 2.2, 0.4, 0.9, 0.4, 0.6, 3.3,
          0.4, 14.8, 8.4, 21, 1.8, 1.6, 0.6, 2.0, 0.4, 0.6,
          1.1, 3.0, 0.6, 16.5, 2.5, 3.0, 10.5, 8, 3, 0.6,
          2.2, 0.4, 5.3, 1.0, 4.0, 1.6, 0.6, 1.3, 0.6, 1.4,
          0.6, 1.3, 0.4, 0.6, 17.3, 2.0, 0.4, 1.0, 0.4, 12.3,
          3.5, 0]

# ---------------- (k) MSRusr0 ----------------
K_X = [0, 2, 4, 7, 10, 13, 16, 19, 22, 25,
       28, 29.9, 32, 35, 38, 41.9, 45.6, 47, 50, 51.3,
       53, 56, 58, 59.5, 61.7, 64.3, 65.3, 66.2, 67.3, 68.5,
       70, 71.8, 73, 75, 77, 79.3, 81, 83, 85, 87,
       88.5, 90.5, 101, 103, 105.5, 107, 109.2, 111, 113.7, 115.5,
       118, 121, 124, 127, 130, 133, 136, 139, 142, 145,
       148, 151, 154, 157.1, 159, 162, 165, 168, 171, 174,
       177, 180, 182.2, 184, 187, 189.5, 191.5, 193, 194.2, 196,
       199, 201, 204, 207, 210.2, 212, 214, 216.6, 218, 220,
       223.3, 225, 228, 233, 235, 238.3, 239.3, 240.2, 242, 243.9,
       245.8, 248.8, 250.7, 251.8, 253.5, 255.2, 257, 258.5, 260.8, 262.6,
       264.5, 266.5, 268.2, 270.1, 272, 274.2, 275.7, 278, 281, 284,
       287, 290, 293, 296, 297.5, 299, 300]
K_IDEAL = [0, 0.6, 0.4, 0.9, 0.5, 1.0, 0.5, 1.2, 0.6, 1.0,
           0.4, 1.3, 0.6, 1.0, 0.5, 0, 1.4, 0.3, 1.5, 2.0,
           1.0, 3.0, 1.6, 1.0, 0, 6.5, 2.0, 4.5, 3.0, 6.7,
           2.5, 7.7, 1.5, 1.5, 2.0, 2.5, 2.2, 1.5, 1.0, 1.3,
           0.5, 0, 0, 0.3, 10, 0.5, 10, 0.5, 4.3, 0.5,
           1.3, 0.5, 1.4, 0.5, 1.2, 0.6, 1.3, 0.5, 1.2, 0.6,
           1.3, 0.5, 1.2, 6.0, 0.5, 1.2, 0.5, 1.3, 0.6, 1.2,
           0.5, 1.0, 5.6, 2.5, 1.0, 3.5, 2.0, 5.5, 1.0, 1.2,
           7.0, 1.0, 0.5, 1.0, 3.5, 2.2, 1.0, 12.4, 1.0, 0,
           2.0, 0, 0, 1.2, 0.3, 12.5, 1.5, 12.6, 1.5, 11,
           1.3, 13.3, 0, 4.2, 0.5, 11.3, 9, 7.5, 5, 1,
           2.5, 0.5, 0.5, 3.5, 3.5, 20.5, 1.5, 0.8, 1.3, 0.6,
           1.2, 0.6, 1.2, 0.5, 0.5, 12, 12]
K_OURS = [0, 0.4, 0.3, 0.7, 0.4, 0.8, 0.4, 1.0, 0.5, 0.8,
          0.3, 1.1, 0.5, 0.8, 0.4, 0, 1.2, 0.3, 1.3, 1.8,
          0.9, 3.0, 1.4, 0.9, 0, 6.6, 2.0, 4.5, 3.0, 6.7,
          2.3, 7.5, 1.3, 1.3, 1.8, 2.3, 2.0, 1.3, 0.9, 1.1,
          0.4, 0, 0, 0.3, 10, 0.5, 10.8, 0.5, 4.2, 0.4,
          1.1, 0.4, 1.2, 0.4, 1.0, 0.5, 1.1, 0.4, 1.0, 0.5,
          1.1, 0.4, 1.0, 6.1, 0.4, 1.0, 0.4, 1.1, 0.5, 1.0,
          0.4, 0.9, 5.5, 2.3, 1.0, 3.7, 2.0, 5.3, 1.0, 1.1,
          10, 1.0, 0.4, 0.9, 3.4, 2.2, 1.0, 13.3, 1.0, 0,
          1.9, 0, 0, 1.2, 0.3, 12.3, 1.4, 12.4, 1.5, 10.8,
          1.2, 13.1, 0, 4.0, 0.5, 11, 9, 7.3, 4.8, 1,
          2.3, 0.4, 0.4, 3.5, 3.5, 20.5, 1.3, 0.7, 1.1, 0.5,
          1.0, 0.5, 1.0, 0.4, 0.4, 12, 12]
K_PG2S = [0, 0.8, 0.7, 1.2, 0.9, 1.5, 0.8, 1.5, 0.9, 1.4,
          0.7, 2.3, 0.9, 1.3, 0.8, 0, 1.5, 0.5, 1.6, 1.8,
          1.3, 2.8, 1.8, 1.2, 0, 6.0, 2.0, 1.8, 2.5, 6.2,
          2.8, 6.5, 1.8, 1.8, 2.2, 2.2, 2.0, 1.8, 1.2, 1.5,
          0.7, 0, 0, 0.3, 9, 0.5, 4.8, 0.7, 4.0, 0.8,
          1.6, 0.8, 1.6, 0.8, 1.5, 0.9, 1.6, 0.8, 1.5, 0.9,
          1.5, 0.8, 1.5, 5.8, 0.8, 1.5, 0.8, 1.5, 0.9, 1.5,
          0.8, 1.3, 5.3, 2.5, 1.3, 3.3, 2.0, 5.3, 1.3, 1.5,
          8.8, 1.3, 0.8, 1.3, 3.0, 2.6, 1.3, 12.2, 1.0, 0,
          1.8, 0, 0, 1.2, 0.3, 12, 1.7, 6.0, 1.8, 10.5,
          1.5, 12.5, 0, 4.0, 0.7, 8.3, 8, 7, 4.8, 1.2,
          2.5, 0.8, 0.8, 3.5, 3.3, 20.5, 1.7, 1.0, 1.6, 0.9,
          1.5, 0.9, 1.5, 0.8, 0.8, 12, 12]

# ---------------- (l) MSRweb0 ----------------
L_X = [0, 3, 7.5, 10, 15, 20, 25, 29.1, 31.8, 32.9,
       34.4, 35.5, 37.4, 41.1, 43, 46.7, 48.6, 53, 58.6, 60.5,
       63.5, 65.4, 67.2, 69.9, 71, 73.2, 74.7, 77.7, 79.2, 82.2,
       87, 89.7, 95, 99, 100.5, 102, 103.5, 105.3, 107.6, 109.5,
       111.3, 113.2, 115.1, 116.5, 119.5, 122.2, 125.1, 127, 130.7, 132.6,
       138.2, 142, 143.8, 146.4, 147.9, 149.4, 151.3, 155, 156.9, 163.6,
       165.1, 167, 168.8, 171.1, 173, 174.5, 176, 178.2, 180, 181.9,
       183.8, 185.7, 187.5, 189, 190.5, 192.4, 196.1, 197.6, 199.1, 200.6,
       202.5, 204, 206.2, 207.7, 209.2, 210.7, 213, 215.2, 217.4, 219.6,
       221.1, 223.4, 225.6, 228.6, 230.1, 236.1, 238.3, 242.1, 243.6, 245,
       246.5, 248, 249.2, 251, 273.4, 274.6, 275.7, 277.2, 280.2, 281.7,
       300]
L_IDEAL = [0, 0.3, 0.6, 0.4, 0.3, 0.3, 0.3, 0.1, 2.6, 1.8,
           1.0, 2.0, 0.3, 3.0, 0.8, 1.8, 0.4, 0.3, 1.0, 0.3,
           0.3, 3.2, 0.3, 13.5, 1.5, 2.3, 1.0, 5.3, 1.5, 0.5,
           0.8, 0.3, 0.2, 2.3, 0.5, 3.5, 1.8, 0.5, 3.0, 2.5,
           3.3, 1.5, 0.4, 2.5, 1.8, 1.5, 16.8, 1.0, 2.8, 0.3,
           0.5, 6.0, 1.5, 3.0, 0.5, 4.0, 1.5, 2.2, 0.3, 15,
           1.0, 5.0, 2.0, 1.0, 0.5, 3.5, 2.5, 2.5, 1.0, 0.5,
           5.5, 3.0, 1.5, 0.5, 3.0, 0.5, 1.5, 0.3, 1.6, 0.3,
           19.7, 0.5, 2.5, 1.5, 5.3, 1.5, 2.5, 1.0, 3.5, 1.5,
           0.3, 0.8, 0, 2.0, 0, 0.7, 0, 3.5, 3.3, 0.3,
           1.2, 0.5, 0.8, 0, 0.9, 0.3, 0.6, 0, 0, 0,
           0]
L_OURS = [0, 0.2, 0.5, 0.2, 0.2, 0.2, 0.2, 0.1, 2.5, 1.7,
          0.9, 1.9, 0.3, 2.9, 0.7, 1.7, 0.4, 0.2, 0.9, 0.3,
          0.3, 3.0, 0.3, 24.7, 1.5, 2.2, 1.0, 5.2, 1.4, 0.5,
          0.7, 0.3, 0.2, 2.2, 0.5, 3.4, 1.7, 0.5, 2.9, 2.4,
          3.2, 1.4, 0.4, 2.4, 1.7, 1.4, 27.6, 1.0, 2.7, 0.3,
          0.5, 5.8, 1.4, 2.9, 0.5, 3.9, 1.4, 2.1, 0.3, 18,
          1.0, 4.9, 1.9, 1.0, 0.5, 3.4, 2.4, 2.4, 1.0, 0.5,
          5.4, 2.9, 1.4, 0.5, 2.9, 0.5, 1.4, 0.3, 1.5, 0.3,
          28.2, 0.5, 2.4, 1.4, 5.2, 1.4, 2.4, 1.0, 3.4, 1.4,
          0.3, 0.8, 0, 1.9, 0, 0.7, 0, 3.4, 3.2, 0.3,
          1.1, 0.5, 0.8, 0, 1.1, 0.3, 0.6, 0, 0.5, 0,
          0]
L_PG2S = [0, 0.5, 0.8, 0.5, 0.5, 0.5, 0.5, 0.1, 3.2, 2.0,
          1.2, 2.4, 0.4, 3.7, 0.9, 2.3, 0.5, 0.4, 1.2, 0.4,
          0.4, 4.5, 0.4, 18.5, 1.7, 2.6, 1.2, 6.5, 1.7, 0.6,
          1.0, 0.4, 0.3, 2.5, 0.6, 4.2, 2.0, 0.6, 3.4, 2.8,
          3.5, 1.7, 0.5, 2.9, 2.0, 1.7, 19.7, 1.2, 2.9, 0.4,
          0.6, 6.8, 1.7, 3.3, 0.6, 4.9, 1.7, 2.4, 0.4, 18,
          1.2, 6.0, 2.2, 1.2, 0.6, 4.3, 2.8, 2.8, 1.2, 0.6,
          6.4, 3.3, 1.7, 0.6, 3.5, 0.6, 1.7, 0.4, 1.9, 0.4,
          26.8, 0.6, 2.6, 1.7, 6.7, 1.7, 2.8, 1.2, 4.9, 1.7,
          0.4, 0.9, 0, 2.4, 0, 0.8, 0, 3.7, 3.5, 0.4,
          1.3, 0.6, 0.9, 0, 0.9, 0.3, 0.6, 0, 0, 0,
          0]

CAPTIONS = ["(a) Financial1", "(b) Financial2", "(c) Diskmon", "(d) Diskmon1",
            "(e) WebSearch2", "(f) WebSearch3", "(g) MSRhm0", "(h) MSRprn0",
            "(i) MSRproj0", "(j) MSRrsrch0", "(k) MSRusr0", "(l) MSRweb0"]
SERIES = [(A_X, A_OURS, A_PG2S, A_IDEAL), (B_X, B_OURS, B_PG2S, B_IDEAL),
          (C_X, C_OURS, C_PG2S, C_IDEAL), (D_X, D_OURS, D_PG2S, D_IDEAL),
          (E_X, E_OURS, E_PG2S, E_IDEAL), (F_X, F_OURS, F_PG2S, F_IDEAL),
          (G_X, G_OURS, G_PG2S, G_IDEAL), (H_X, H_OURS, H_PG2S, H_IDEAL),
          (I_X, I_OURS, I_PG2S, I_IDEAL), (J_X, J_OURS, J_PG2S, J_IDEAL),
          (K_X, K_OURS, K_PG2S, K_IDEAL), (L_X, L_OURS, L_PG2S, L_IDEAL)]
Y_MAX = [45, 40, 25, 100, 4, 10, 100, 80, 20, 20, 20, 30]
Y_STEP = [5, 5, 5, 20, 0.5, 2, 20, 10, 5, 5, 5, 5]
X_TICKS = [0, 50, 100, 150, 200, 250, 300]
LEGEND_NAMES = ["Ours", "PG2S", "Ideal"]
COLORS = [RED, BLUE, BLACK]

# pixel boxes of plot areas: (left, right, top, bottom)
BOXES = [(50, 317, 17, 214), (388, 655, 17, 214), (724, 992, 17, 214), (1071, 1330, 17, 214),
         (59, 317, 316, 512), (387, 655, 316, 512), (733, 992, 316, 512), (1061, 1329, 316, 512),
         (50, 317, 614, 811), (387, 655, 614, 811), (724, 992, 614, 811), (1061, 1329, 614, 811)]
COL_CAPTION_X = [163, 500, 837, 1175]
COL_YTITLE_X = [17, 355, 692, 1030]

fig = go.Figure()
annotations = []
shapes = []


def px(x):
    return x / W


def py(y):
    return 1 - y / H


for i, (xs, ours, pg2s, ideal) in enumerate(SERIES):
    n = i + 1
    xa = "x" if n == 1 else f"x{n}"
    ya = "y" if n == 1 else f"y{n}"
    for name, ys, col in zip(LEGEND_NAMES, (ours, pg2s, ideal), COLORS):
        fig.add_trace(go.Scatter(x=xs, y=ys, mode="lines", name=name,
                                 line=dict(color=col, width=1.4),
                                 xaxis=xa, yaxis=ya, showlegend=False,
                                 hoverinfo="skip"))
    l, r, t, b = BOXES[i]
    col = i % 4
    axis_common = dict(showline=True, linecolor="black", linewidth=1, mirror="ticks",
                       ticks="inside", ticklen=6, tickwidth=1, tickcolor="black",
                       showgrid=False, zeroline=False, automargin=False,
                       tickfont=dict(family=FONT, size=18, color="black"))
    fig.layout[f"xaxis{'' if n == 1 else n}"] = dict(
        domain=[px(l), px(r)], range=[0, 300], tickvals=X_TICKS,
        anchor=ya, **axis_common)
    fig.layout[f"yaxis{'' if n == 1 else n}"] = dict(
        domain=[py(b), py(t)], range=[0, Y_MAX[i]], dtick=Y_STEP[i], tick0=0,
        anchor=xa, **axis_common)

    annotations.append(dict(text="Average Stack Distance (×1000)", textangle=-90,
                            x=px(COL_YTITLE_X[col]), y=py((t + b) / 2),
                            xref="paper", yref="paper", xanchor="center", yanchor="middle",
                            showarrow=False, font=dict(family=FONT, size=16, color="black")))
    annotations.append(dict(text="Number of Request (unit:1K)",
                            x=px((l + r) / 2), y=py(b + 33),
                            xref="paper", yref="paper", xanchor="center", yanchor="middle",
                            showarrow=False, font=dict(family=FONT, size=16, color="black")))
    annotations.append(dict(text=CAPTIONS[i],
                            x=px(COL_CAPTION_X[col]), y=py(b + 69),
                            xref="paper", yref="paper", xanchor="center", yanchor="middle",
                            showarrow=False, font=dict(family=FONT, size=25, color="black")))
    for k, (name, c) in enumerate(zip(LEGEND_NAMES, COLORS)):
        yy = t + 15 + k * 16.5
        annotations.append(dict(text=name, x=px(l + 58), y=py(yy),
                                xref="paper", yref="paper", xanchor="right", yanchor="middle",
                                showarrow=False, font=dict(family=FONT, size=16, color="black")))
        shapes.append(dict(type="line", xref="paper", yref="paper",
                           x0=px(l + 68), x1=px(l + 93), y0=py(yy), y1=py(yy),
                           line=dict(color=c, width=1.6)))

fig.update_layout(template="none", width=W, height=H,
                  margin=dict(l=0, r=0, t=0, b=0, pad=0, autoexpand=False),
                  paper_bgcolor="white", plot_bgcolor="white",
                  font=dict(family=FONT, color="black"),
                  annotations=annotations, shapes=shapes, showlegend=False)

fig.write_html("out.html", config={"displayModeBar": False},
               post_script="document.body.style.margin='0px';document.body.style.overflow='hidden';")
